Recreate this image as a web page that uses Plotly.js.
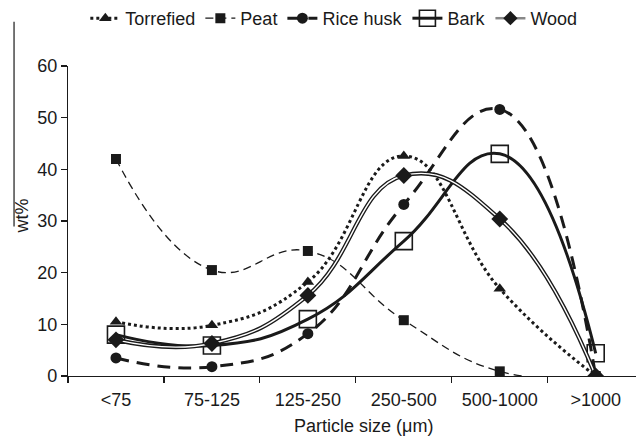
<!DOCTYPE html>
<html>
<head>
<meta charset="utf-8">
<script src="https://cdn.plot.ly/plotly-3.0.1.min.js"></script>
<style>html,body{margin:0;padding:0;background:#fff;}#chart{width:636px;height:437px;}</style>
</head>
<body>
<div id="chart"></div>
<script>
const categories = ["<75", "75-125", "125-250", "250-500", "500-1000", ">1000"];
const torrefied = [10.5, 9.8, 18.2, 42.6, 16.9, 0];
const peat = [42, 20.5, 24.2, 10.8, 0.9, 0];
const riceHusk = [3.5, 1.8, 8.2, 33.2, 51.6, 0];
const bark = [8, 5.9, 11, 26.1, 43, 4.4];
const wood = [7, 6.3, 15.6, 38.8, 30.4, 0];

const FONT = "Liberation Sans, Arial, Helvetica, sans-serif";
const SM = 1.3;

const traces = [
  {x: categories, y: torrefied, name: "Torrefied", type: "scatter", mode: "lines+markers",
   line: {color: "#1a1a1a", width: 3, dash: "dot", shape: "spline", smoothing: SM},
   marker: {symbol: "triangle-up", size: 11, color: "#1a1a1a"}},
  {x: categories, y: peat, name: "Peat", type: "scatter", mode: "lines+markers",
   line: {color: "#1a1a1a", width: 1.3, dash: "8px,5px", shape: "spline", smoothing: SM},
   marker: {symbol: "square", size: 10, color: "#1a1a1a"}},
  {x: categories, y: riceHusk, name: "Rice husk", type: "scatter", mode: "lines+markers",
   line: {color: "#1a1a1a", width: 3, dash: "13px,8px", shape: "spline", smoothing: SM},
   marker: {symbol: "circle", size: 11, color: "#1a1a1a"}},
  {x: categories, y: bark, name: "Bark", type: "scatter", mode: "lines+markers",
   line: {color: "#1a1a1a", width: 3, shape: "spline", smoothing: SM},
   marker: {symbol: "square-open", size: 17, color: "#1a1a1a", line: {width: 1.6, color: "#1a1a1a"}}},
  {x: categories, y: wood, name: "Wood", type: "scatter", mode: "lines", showlegend: false,
   line: {color: "#1a1a1a", width: 4.2, shape: "spline", smoothing: SM}, hoverinfo: "skip"},
  {x: categories, y: wood, name: "Wood", type: "scatter", mode: "lines+markers", showlegend: false,
   line: {color: "#ffffff", width: 1.4, shape: "spline", smoothing: SM},
   marker: {symbol: "diamond", size: 13, color: "#1a1a1a"}},
  {x: [null], y: [null], name: "Wood", type: "scatter", mode: "lines+markers",
   line: {color: "#888888", width: 2.5},
   marker: {symbol: "diamond", size: 11, color: "#1a1a1a"}}
];

const layout = {
  width: 636, height: 437,
  margin: {l: 68, r: 0, t: 47, b: 61},
  paper_bgcolor: "#fff", plot_bgcolor: "#fff",
  font: {family: FONT, size: 18, color: "#1a1a1a"},
  showlegend: true,
  legend: {orientation: "h", x: 0.468, xanchor: "center", y: 1.155, yanchor: "middle",
           font: {family: FONT, size: 18, color: "#1a1a1a"}, itemgap: 4, bgcolor: "rgba(0,0,0,0)"},
  xaxis: {type: "category", range: [-0.5, 5.42], showline: true, linecolor: "#1a1a1a", linewidth: 1.2,
          ticks: "outside", tickson: "boundaries", ticklen: 6, tickcolor: "#1a1a1a", tickwidth: 1.2,
          ticklabelstandoff: 7,
          showgrid: false, zeroline: false, fixedrange: true,
          tickfont: {family: FONT, size: 18, color: "#1a1a1a"}},
  yaxis: {range: [0, 60], dtick: 10, showline: true, linecolor: "#1a1a1a", linewidth: 1.2,
          ticks: "outside", ticklen: 6, tickcolor: "#1a1a1a", tickwidth: 1.2,
          showgrid: false, zeroline: false, fixedrange: true,
          tickfont: {family: FONT, size: 18, color: "#1a1a1a"}},
  annotations: [
    {text: "Particle size (μm)", xref: "paper", yref: "paper", x: 0.521, y: -0.16,
     xanchor: "center", yanchor: "middle", showarrow: false, font: {family: FONT, size: 18, color: "#1a1a1a"}},
    {text: "wt%", xref: "paper", yref: "paper", x: -0.081, y: 0.518, textangle: -90,
     xanchor: "center", yanchor: "middle", showarrow: false, font: {family: FONT, size: 18, color: "#1a1a1a"}}
  ],
  shapes: [
    {type: "line", xref: "paper", yref: "paper", x0: -0.095, x1: -0.095, y0: 1.143, y1: 0.482,
     line: {color: "#1a1a1a", width: 1.2}}
  ]
};

Plotly.newPlot("chart", traces, layout, {displayModeBar: false, staticPlot: true});
</script>
</body>
</html>
